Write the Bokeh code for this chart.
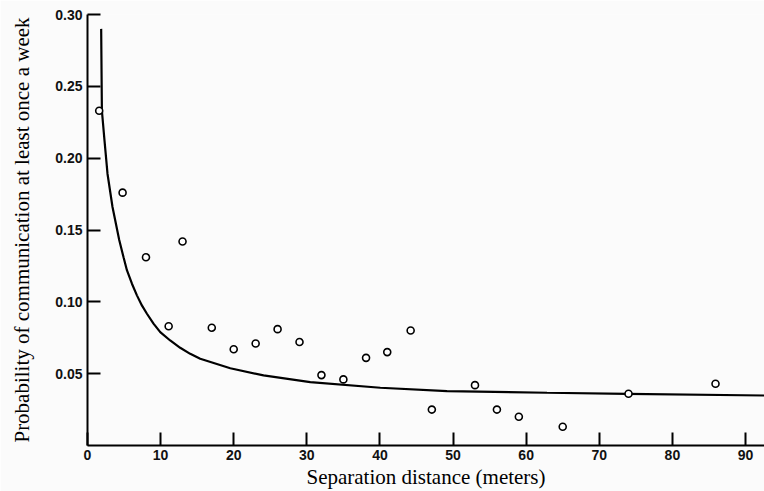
from bokeh.plotting import figure
from bokeh.models import FixedTicker, Range1d, PrintfTickFormatter
from bokeh.embed import file_html
from bokeh.resources import INLINE

# Observed points (separation distance in meters, probability of weekly communication)
distance = [1.6, 4.8, 8.0, 11.1, 13.0, 17.0, 20.0, 23.0, 26.0, 29.0, 32.0,
            35.0, 38.1, 41.0, 44.2, 47.1, 53.0, 56.0, 59.0, 65.0, 74.0, 85.9]
probability = [0.233, 0.176, 0.131, 0.083, 0.142, 0.082, 0.067, 0.071, 0.081, 0.072, 0.049,
               0.046, 0.061, 0.065, 0.080, 0.025, 0.042, 0.025, 0.020, 0.013, 0.036, 0.043]

# Fitted curve
fit_distance = [1.87, 1.97, 2.33, 2.74, 3.42, 4.34, 4.93, 5.39, 6.08, 6.76, 7.44, 8.13,
                9.03, 9.95, 11.31, 12.68, 14.05, 15.42, 19.53, 24.08, 30.47, 40.05, 49.18,
                62.86, 73.81, 92.6]
fit_probability = [0.290, 0.233, 0.212, 0.189, 0.166, 0.143, 0.131, 0.122, 0.1126, 0.1045,
                   0.0975, 0.0917, 0.0848, 0.0789, 0.0731, 0.068, 0.0638, 0.0604, 0.0538,
                   0.0488, 0.0441, 0.0402, 0.0378, 0.0367, 0.036, 0.0348]

x_ticks = [0, 10, 20, 30, 40, 50, 60, 70, 80, 90]
y_ticks = [0.05, 0.10, 0.15, 0.20, 0.25, 0.30]

x_title = "Separation distance (meters)"
y_title = "Probability of communication at least once a week"

bg = "#fbfbfb"
p = figure(width=764, height=491, output_backend="svg", toolbar_location=None,
           x_range=Range1d(0, 92.6), y_range=Range1d(0, 0.30),
           min_border_left=87, min_border_right=0, min_border_top=14, min_border_bottom=46,
           background_fill_color=bg, border_fill_color=bg, outline_line_color=None)
p.grid.visible = False

p.line(fit_distance, fit_probability, line_color="black", line_width=2.2)
p.scatter(distance, probability, marker="circle", size=7, fill_color="white",
          line_color="black", line_width=1.6)

for ax in (p.xaxis[0], p.yaxis[0]):
    ax.axis_line_width = 2
    ax.axis_line_color = "black"
    ax.major_tick_in = 13
    ax.major_tick_out = 0
    ax.major_tick_line_width = 2
    ax.major_tick_line_color = "black"
    ax.minor_tick_line_color = None
    ax.major_label_text_font = "Liberation Sans"
    ax.major_label_text_font_size = "14px"
    ax.major_label_text_font_style = "bold"
    ax.major_label_text_color = "#111111"
    ax.axis_label_text_font = "Liberation Serif"
    ax.axis_label_text_font_size = "21px"
    ax.axis_label_text_font_style = "normal"
    ax.axis_label_text_color = "black"

xa = p.xaxis[0]
xa.ticker = FixedTicker(ticks=x_ticks)
xa.major_label_standoff = 4
xa.axis_label = x_title
xa.axis_label_standoff = 2

ya = p.yaxis[0]
ya.ticker = FixedTicker(ticks=y_ticks)
ya.formatter = PrintfTickFormatter(format="%.2f")
ya.major_label_standoff = 5
ya.axis_label = y_title
ya.axis_label_standoff = 18

open("out.html", "w").write(file_html(p, INLINE))
